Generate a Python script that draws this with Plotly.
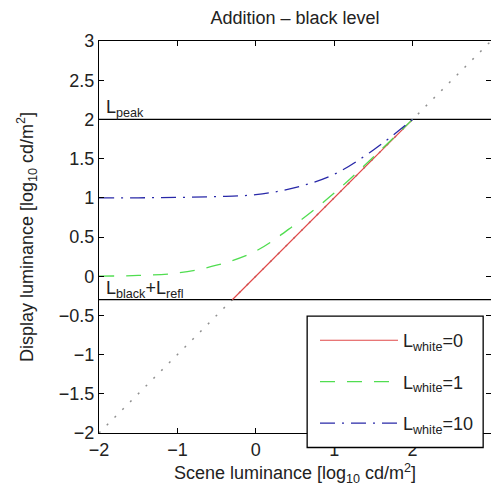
import plotly.graph_objects as go

# Data (log10 units)
scene_x = [-2, -1.5, -1, -0.5, 0, 0.5, 1, 1.5, 2]
green_y = [0.0, 0.01, 0.04, 0.14, 0.32, 0.66, 1.06, 1.52, 2.0]
blue_y = [1.0, 1.0, 1.005, 1.015, 1.04, 1.13, 1.30, 1.61, 2.0]
red_x = [-0.3, 2]
red_y = [-0.3, 2]
diag_x = [-2, 3]
diag_y = [-2, 3]
peak_level = 2
black_level = -0.3

FONT = "Liberation Sans, Arial, sans-serif"
TXT = "#222"
FS = 18

fig = go.Figure()
fig.add_trace(go.Scatter(x=diag_x, y=diag_y, mode="lines",
                         line=dict(color="#909090", width=1.5, dash="2px,9px"),
                         showlegend=False, hoverinfo="skip"))
fig.add_trace(go.Scatter(x=diag_x, y=[peak_level, peak_level], mode="lines",
                         line=dict(color="black", width=1.3), showlegend=False))
fig.add_trace(go.Scatter(x=diag_x, y=[black_level, black_level], mode="lines",
                         line=dict(color="black", width=1.3), showlegend=False))
fig.add_trace(go.Scatter(x=red_x, y=red_y, mode="lines",
                         line=dict(color="#e04848", width=1.2),
                         name="L<sub>white</sub>=0", legendgroup="a"))
fig.add_trace(go.Scatter(x=scene_x, y=green_y, mode="lines", line_shape="spline",
                         line=dict(color="#50dd50", width=1.3, dash="15px,12px"),
                         name="L<sub>white</sub>=1", legendgroup="b"))
fig.add_trace(go.Scatter(x=scene_x, y=blue_y, mode="lines", line_shape="spline",
                         line=dict(color="#2828a8", width=1.3, dash="15px,7px,2px,7px"),
                         name="L<sub>white</sub>=10", legendgroup="c"))

fig.add_annotation(x=-2, y=peak_level, xref="x", yref="y", text="L<sub>peak</sub>",
                   showarrow=False, xanchor="left", yanchor="bottom", xshift=5, yshift=-3,
                   font=dict(size=FS, family=FONT, color=TXT))
fig.add_annotation(x=-2, y=black_level, xref="x", yref="y", text="L<sub>black</sub>+L<sub>refl</sub>",
                   showarrow=False, xanchor="left", yanchor="bottom", xshift=5, yshift=-3,
                   font=dict(size=FS, family=FONT, color=TXT))

# legend frame
fig.add_shape(type="rect", xref="paper", yref="paper", x0=0.531, x1=0.980, y0=-0.037, y1=0.298,
              line=dict(color="black", width=1.3), fillcolor="white", layer="above")

axis_common = dict(showgrid=False, zeroline=False, showline=True, linecolor="black",
                   linewidth=1.3, mirror="ticks", ticks="inside", ticklen=5,
                   tickcolor="black", tickfont=dict(size=FS, family=FONT, color=TXT))

fig.update_layout(
    width=491, height=486,
    margin=dict(l=99, r=0, t=41, b=53),
    paper_bgcolor="white", plot_bgcolor="white",
    title=dict(text="Addition – black level", xref="paper", x=0.5, xanchor="center",
               yref="container", y=0.963, yanchor="middle",
               font=dict(size=FS, family=FONT, color=TXT)),
    xaxis=dict(range=[-2, 3], dtick=1, **axis_common,
               title=dict(text="Scene luminance [log<sub>10</sub> cd/m<sup>2</sup>]",
                          font=dict(size=FS, family=FONT, color=TXT), standoff=12)),
    yaxis=dict(range=[-2, 3], dtick=0.5, **axis_common,
               title=dict(text="Display luminance [log<sub>10</sub> cd/m<sup>2</sup>]",
                          font=dict(size=FS, family=FONT, color=TXT), standoff=20)),
    legend=dict(x=0.551, y=0.283, xanchor="left", yanchor="top",
                borderwidth=0, bgcolor="rgba(0,0,0,0)",
                font=dict(size=FS, family=FONT, color=TXT),
                itemwidth=78, tracegroupgap=15, traceorder="grouped"),
    showlegend=True,
)

fig.write_html("out.html")
